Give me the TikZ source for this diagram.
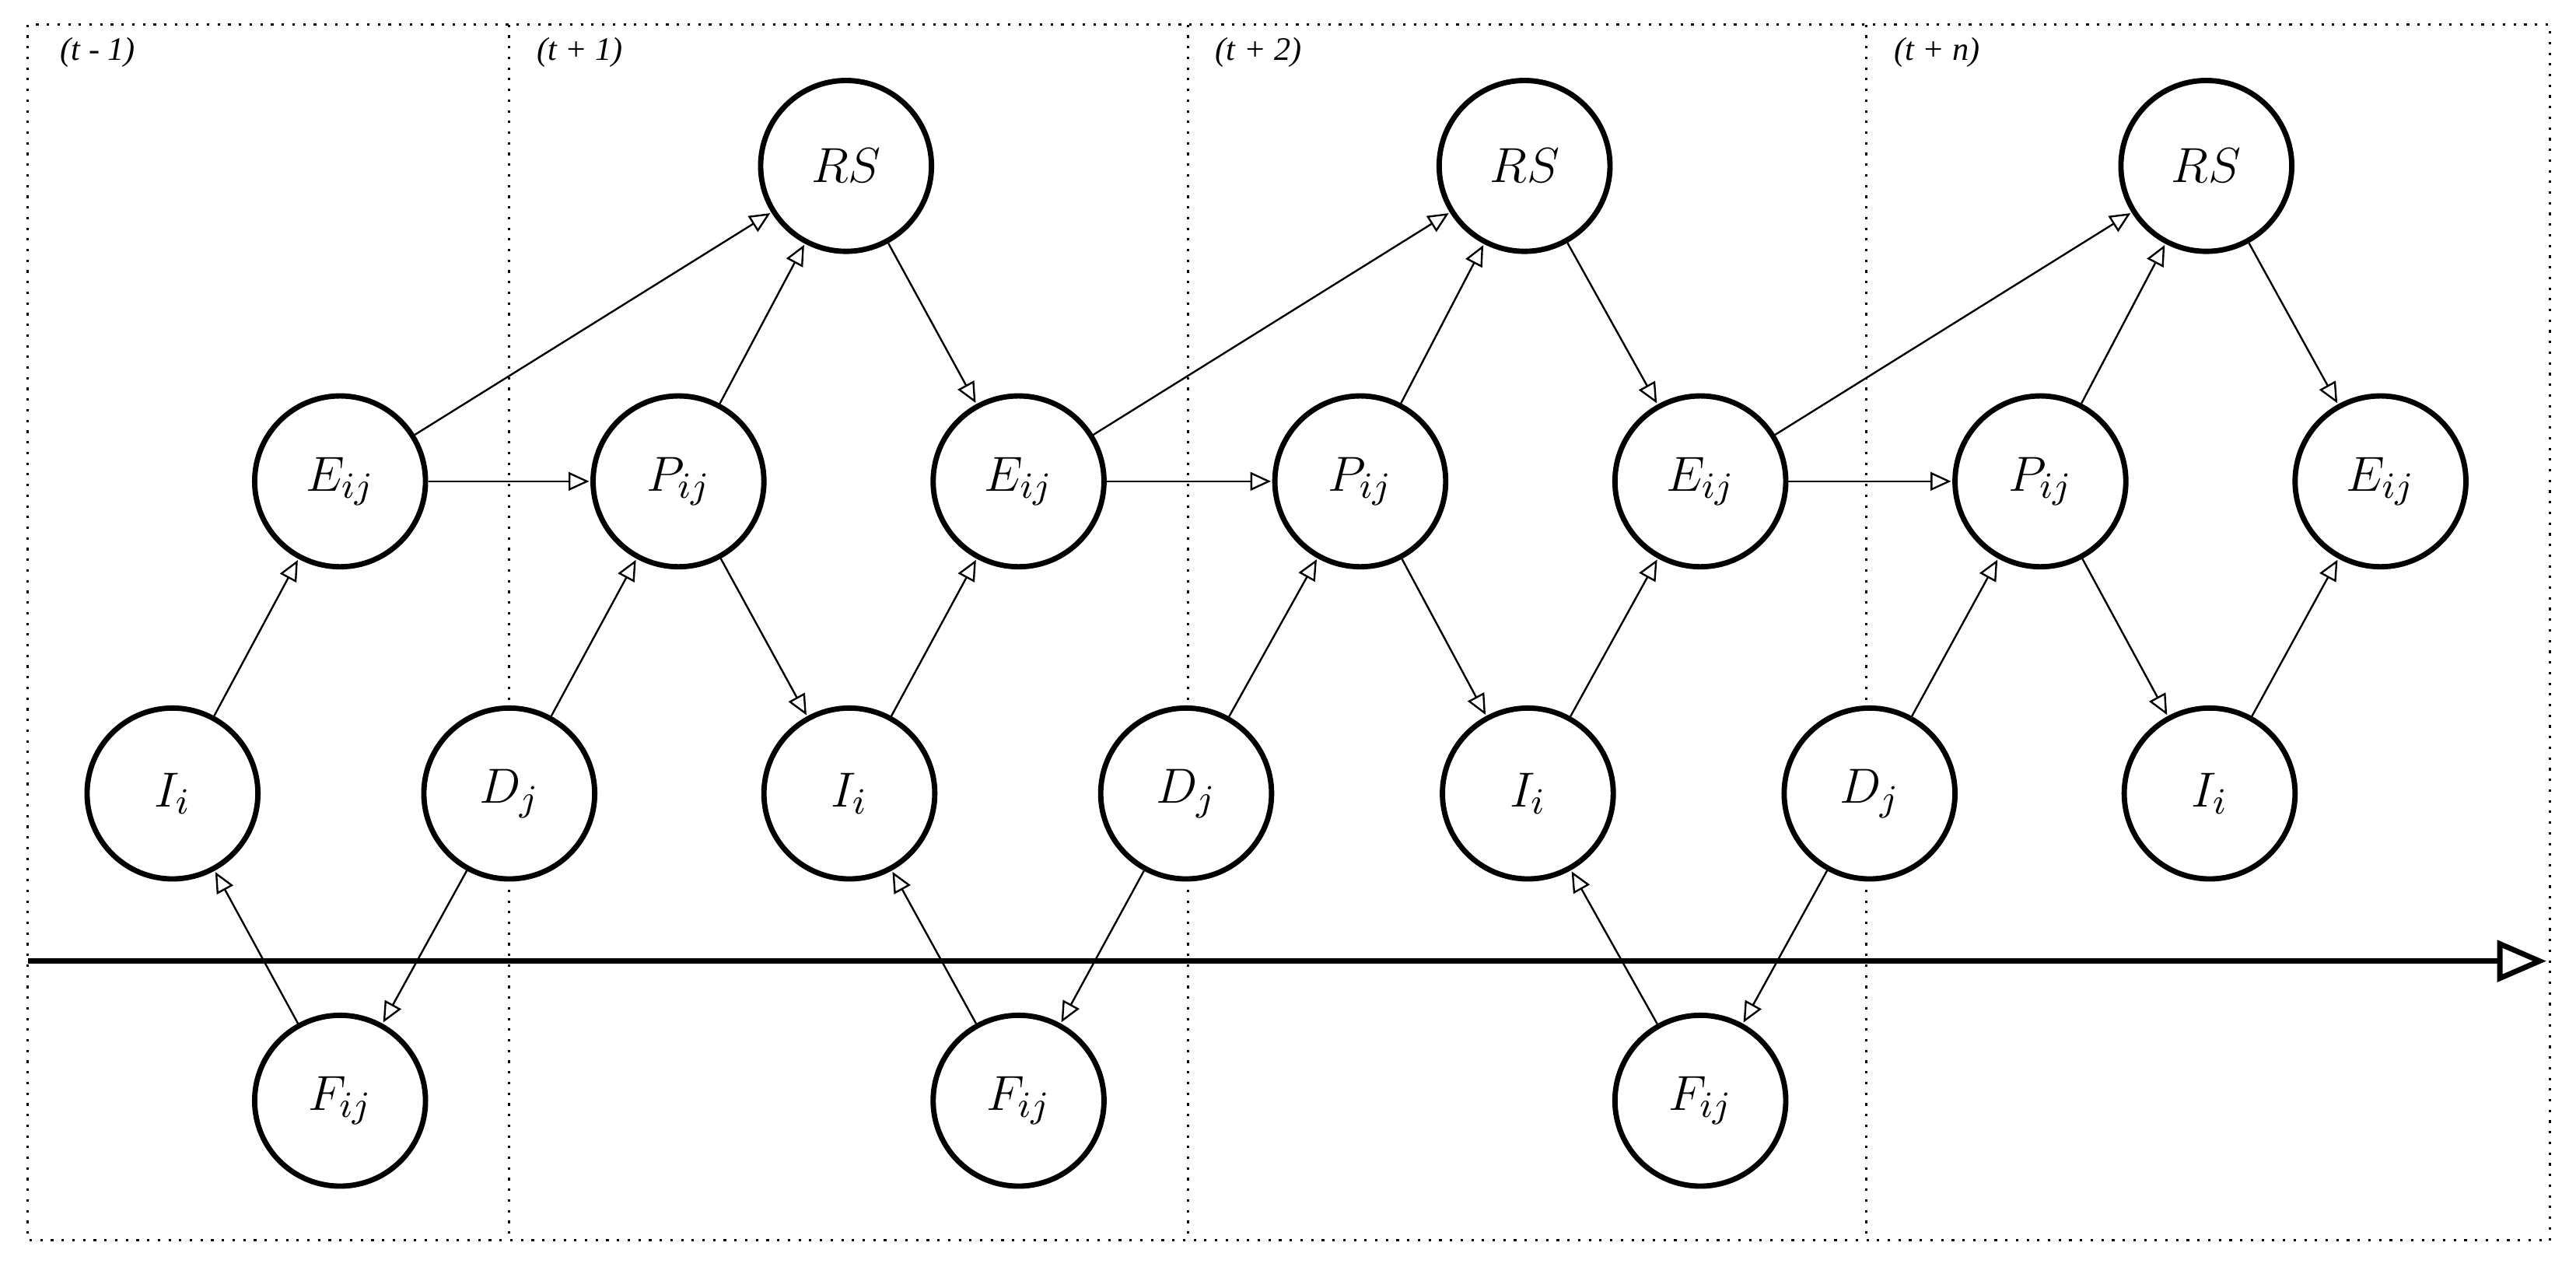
\documentclass[tikz,border=0pt]{standalone}
\usepackage{fontspec}
\setmainfont{Liberation Serif}
\usetikzlibrary{arrows.meta}
\begin{document}
\begin{tikzpicture}[x=0.4pt,y=-0.4pt,
 st/.style={circle,draw,fill=white,line width=1.3pt,minimum size=41.6pt,inner sep=0pt,font=\fontsize{13}{13}\selectfont},
 ar/.style={-{Triangle[open,length=5pt,width=4.5pt]},line width=0.45pt,shorten >=0.3pt},
 lab/.style={anchor=west,font=\fontsize{8}{8}\selectfont\itshape},
 dv/.style={dotted,line width=0.6pt}]
\useasboundingbox (0,0) rectangle (1568,771);
\draw[dv] (17,15) rectangle (1552,755);
\foreach \x in {310,723,1136} \draw[dv] (\x,15) -- (\x,755);
\node[lab] (l1) at (28,32) {(t - 1)};
\node[lab] (l2) at (318,32) {(t + 1)};
\node[lab] (l3) at (731,32) {(t + 2)};
\node[lab] (l4) at (1144,32) {(t + n)};
\coordinate (a0) at (17,585); \coordinate (a1) at (1550,585);
\draw[-{Triangle[open,length=12pt,width=10pt]},line width=1.3pt] (a0) -- (a1);
\node[st] (R1) at (515,101) {$RS$};
\node[st] (R2) at (928,101) {$RS$};
\node[st] (R3) at (1343,101) {$RS$};
\node[st] (E1) at (207,293) {$E_{ij}$};
\node[st] (P1) at (413,293) {$P_{ij}$};
\node[st] (E2) at (620,293) {$E_{ij}$};
\node[st] (P2) at (828,293) {$P_{ij}$};
\node[st] (E3) at (1035,293) {$E_{ij}$};
\node[st] (P3) at (1242,293) {$P_{ij}$};
\node[st] (E4) at (1449,293) {$E_{ij}$};
\node[st] (I1) at (105,483) {$I_i$};
\node[st] (D1) at (310,483) {$D_j$};
\node[st] (I2) at (517,483) {$I_i$};
\node[st] (D2) at (722,483) {$D_j$};
\node[st] (I3) at (930,483) {$I_i$};
\node[st] (D3) at (1138,483) {$D_j$};
\node[st] (I4) at (1345,483) {$I_i$};
\node[st] (F1) at (207,670) {$F_{ij}$};
\node[st] (F2) at (620,670) {$F_{ij}$};
\node[st] (F3) at (1035,670) {$F_{ij}$};
\foreach \a/\b in {I1/E1,E1/P1,E1/R1,D1/P1,D1/F1,F1/I1,P1/R1,P1/I2,R1/E2,I2/E2,
 D2/P2,D2/F2,F2/I2,E2/P2,E2/R2,P2/R2,P2/I3,R2/E3,I3/E3,F3/I3,D3/F3,D3/P3,E3/P3,E3/R3,P3/R3,P3/I4,R3/E4,I4/E4}
 \draw[ar] (\a) -- (\b);
\end{tikzpicture}
\end{document}
